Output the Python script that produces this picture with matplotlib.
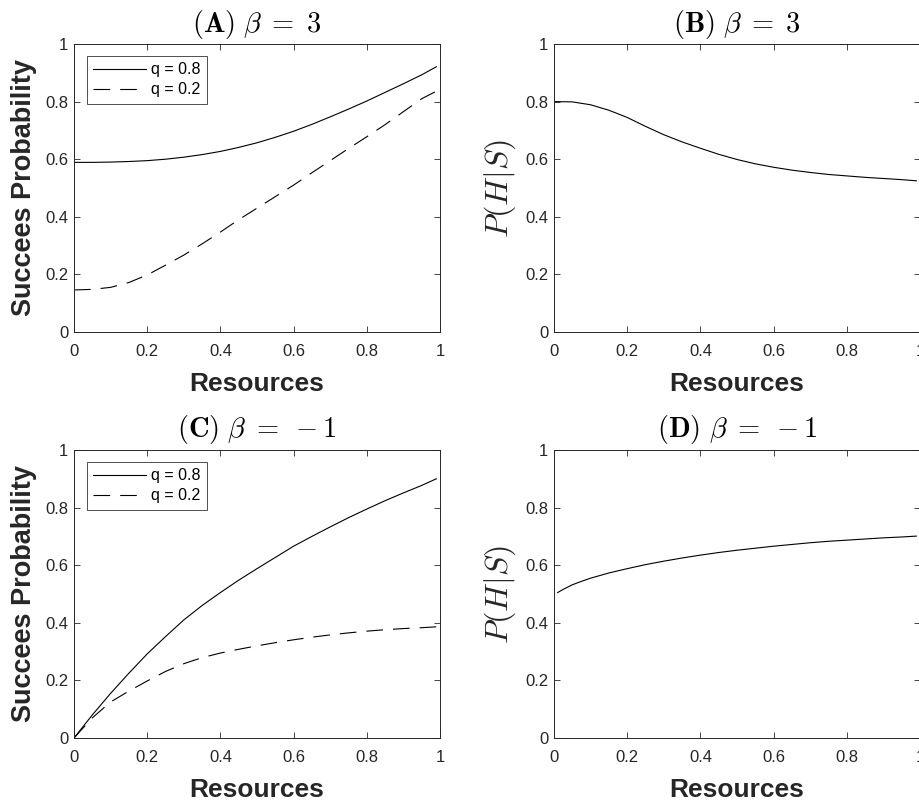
import matplotlib
matplotlib.use("Agg")
import matplotlib.pyplot as plt

plt.rcParams['font.family'] = ['Liberation Sans', 'DejaVu Sans']
plt.rcParams['mathtext.fontset'] = 'cm'

# ---- data ----
x_a = [0.0, 0.05, 0.1, 0.15, 0.2, 0.25, 0.3, 0.35, 0.4, 0.45, 0.5, 0.55,
       0.6, 0.65, 0.7, 0.75, 0.8, 0.85, 0.9, 0.95, 0.99]
a_q08 = [0.589, 0.589, 0.590, 0.592, 0.595, 0.600, 0.607, 0.616, 0.627, 0.641,
         0.657, 0.676, 0.697, 0.721, 0.747, 0.774, 0.802, 0.832, 0.862, 0.893, 0.921]
a_q02 = [0.146, 0.148, 0.155, 0.172, 0.198, 0.232, 0.267, 0.306, 0.347, 0.390,
         0.430, 0.470, 0.510, 0.553, 0.595, 0.637, 0.678, 0.720, 0.765, 0.810, 0.836]

x_b = [0.0, 0.05, 0.1, 0.15, 0.2, 0.25, 0.3, 0.35, 0.4, 0.45, 0.5, 0.55,
       0.6, 0.65, 0.7, 0.75, 0.8, 0.85, 0.9, 0.95, 0.99]
b_phs = [0.800, 0.799, 0.789, 0.770, 0.745, 0.714, 0.685, 0.660, 0.638, 0.617,
         0.599, 0.584, 0.572, 0.562, 0.554, 0.547, 0.542, 0.537, 0.533, 0.529, 0.525]

x_c = [0.0, 0.05, 0.1, 0.15, 0.2, 0.25, 0.3, 0.35, 0.4, 0.45, 0.5, 0.55,
       0.6, 0.65, 0.7, 0.75, 0.8, 0.85, 0.9, 0.95, 0.99]
c_q08 = [0.0, 0.080, 0.155, 0.225, 0.292, 0.352, 0.410, 0.460, 0.505, 0.548,
         0.588, 0.627, 0.666, 0.700, 0.733, 0.765, 0.795, 0.824, 0.851, 0.877, 0.900]
c_q02 = [0.0, 0.070, 0.125, 0.163, 0.198, 0.231, 0.258, 0.279, 0.295, 0.308,
         0.320, 0.331, 0.341, 0.350, 0.358, 0.365, 0.371, 0.376, 0.380, 0.383, 0.386]

x_d = [0.01, 0.025, 0.05, 0.075, 0.1, 0.15, 0.2, 0.25, 0.3, 0.35, 0.4, 0.45,
       0.5, 0.55, 0.6, 0.65, 0.7, 0.75, 0.8, 0.85, 0.9, 0.95, 0.99]
d_phs = [0.505, 0.516, 0.532, 0.544, 0.555, 0.573, 0.588, 0.602, 0.614, 0.625,
         0.635, 0.644, 0.652, 0.659, 0.666, 0.672, 0.678, 0.683, 0.687, 0.691,
         0.695, 0.698, 0.701]

titles = [r'$\mathbf{(A)}\ \beta\;=\;3$', r'$\mathbf{(B)}\ \beta\;=\;3$',
          r'$\mathbf{(C)}\ \beta\;=\;-1$', r'$\mathbf{(D)}\ \beta\;=\;-1$']
xticks = [0, 0.2, 0.4, 0.6, 0.8, 1]
xticklabels = ['0', '0.2', '0.4', '0.6', '0.8', '1']
yticks = [0, 0.2, 0.4, 0.6, 0.8, 1]
yticklabels = ['0', '0.2', '0.4', '0.6', '0.8', '1']
legend_labels = ['q = 0.8', 'q = 0.2']

W, H = 919, 806
fig = plt.figure(figsize=(W / 100, H / 100), dpi=100)

def box(l, t, r, b):
    return [l / W, 1 - b / H, (r - l) / W, (b - t) / H]

axA = fig.add_axes(box(74, 44, 440, 332))
axB = fig.add_axes(box(554, 44, 920, 332))
axC = fig.add_axes(box(74, 450, 440, 738))
axD = fig.add_axes(box(554, 450, 920, 738))

dark = '#262626'
dash = (0, (15, 9))

def style(ax, title, ylab, ylab_math):
    ax.set_xlim(0, 1)
    ax.set_ylim(0, 1)
    ax.set_xticks(xticks)
    ax.set_xticklabels(xticklabels)
    ax.set_yticks(yticks)
    ax.set_yticklabels(yticklabels)
    ax.tick_params(direction='in', top=True, right=True, length=4, width=0.6,
                   colors=dark, labelsize=12, labelcolor=dark)
    ax.tick_params(axis='x', pad=9)
    ax.tick_params(axis='y', pad=4)
    for s in ax.spines.values():
        s.set_color(dark)
        s.set_linewidth(0.7)
    ax.set_title(title, fontsize=20.5, pad=9, color='black')
    ax.set_xlabel('Resources', fontsize=19, fontweight='bold', color=dark, labelpad=9)
    if ylab_math:
        ax.set_ylabel(ylab, fontsize=23, color=dark, labelpad=5)
    else:
        ax.set_ylabel(ylab, fontsize=19.5, fontweight='bold', color=dark, labelpad=6)

axA.plot(x_a, a_q08, color='black', lw=0.8, label=legend_labels[0])
axA.plot(x_a, a_q02, color='black', lw=0.8, linestyle=dash, label=legend_labels[1])
axB.plot(x_b, b_phs, color='black', lw=0.8)
axC.plot(x_c, c_q08, color='black', lw=0.8, label=legend_labels[0])
axC.plot(x_c, c_q02, color='black', lw=0.8, linestyle=dash, label=legend_labels[1])
axD.plot(x_d, d_phs, color='black', lw=0.8)

style(axA, titles[0], 'Succees Probability', False)
style(axB, titles[1], r'$P(H|S)$', True)
style(axC, titles[2], 'Succees Probability', False)
style(axD, titles[3], r'$P(H|S)$', True)

for ax in (axA, axC):
    leg = ax.legend(loc='upper left', bbox_to_anchor=(0.0355, 0.958), fontsize=11.5,
                    frameon=True, fancybox=False, edgecolor='black',
                    handlelength=3.3, borderaxespad=0, borderpad=0.4,
                    labelspacing=0.3, handletextpad=0.3)
    leg.get_frame().set_linewidth(0.6)

fig.savefig('out.png', dpi=100)
